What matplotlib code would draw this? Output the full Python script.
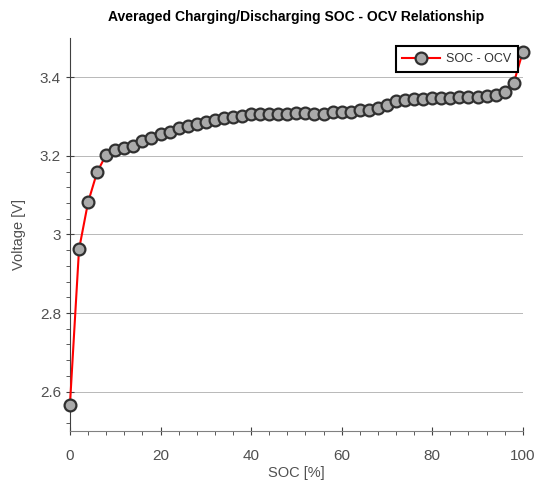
import numpy as np
import matplotlib
matplotlib.use('Agg')
import matplotlib.pyplot as plt
from matplotlib.ticker import FixedLocator

plt.rcParams['font.family'] = ['Liberation Sans', 'DejaVu Sans']

# SOC breakpoints [%] and averaged open-circuit voltage [V]
SOC = list(range(0, 101, 2))
OCV = [2.567, 2.962, 3.082, 3.159, 3.203, 3.216, 3.219, 3.225, 3.239, 3.247,
       3.256, 3.262, 3.270, 3.276, 3.282, 3.286, 3.292, 3.297, 3.300, 3.303,
       3.306, 3.306, 3.306, 3.306, 3.306, 3.310, 3.310, 3.308, 3.308, 3.313,
       3.313, 3.313, 3.317, 3.318, 3.322, 3.330, 3.339, 3.342, 3.344, 3.344,
       3.347, 3.347, 3.347, 3.350, 3.350, 3.351, 3.353, 3.356, 3.364, 3.386,
       3.465]
X_TICKS = [0, 20, 40, 60, 80, 100]
Y_TICKS = [2.6, 2.8, 3.0, 3.2, 3.4]
Y_TICK_LABELS = ['2.6', '2.8', '3', '3.2', '3.4']

fig = plt.figure(figsize=(5.34, 4.83), dpi=100)
ax = fig.add_axes([0.131, 0.108, 0.848, 0.813])

ax.plot(SOC, OCV, color='red', linewidth=1.5, marker='o', markersize=8.5,
        markerfacecolor='#aaaaaa', markeredgecolor='#303030', markeredgewidth=1.6,
        label='SOC - OCV', clip_on=False, zorder=3)

ax.set_xlim(0, 100)
ax.set_ylim(2.5, 3.5)
ax.set_xticks(X_TICKS)
ax.set_yticks(Y_TICKS)
ax.set_yticklabels(Y_TICK_LABELS)
ax.xaxis.set_minor_locator(FixedLocator([x for x in range(4, 100, 4) if x % 20 != 0]))
ax.yaxis.set_minor_locator(FixedLocator([v for v in np.arange(2.52, 3.17, 0.04)
                                         if min(abs(v - t) for t in Y_TICKS) > 1e-3]))

ax.grid(axis='y', which='major', color='#b8b8b8', linewidth=0.7)
ax.set_axisbelow(True)
for side in ['top', 'right']:
    ax.spines[side].set_visible(False)
ax.spines['left'].set_color('#404040')
ax.spines['bottom'].set_color('#808080')

ax.tick_params(axis='both', which='major', direction='inout', length=6,
               color='#404040', labelcolor='#505050', labelsize=11)
ax.tick_params(axis='both', which='minor', direction='out', length=3, color='#404040')
ax.tick_params(axis='x', which='major', pad=10)

ax.set_xlabel('SOC [%]', color='#505050', fontsize=10.5, labelpad=2)
ax.set_ylabel('Voltage [V]', color='#505050', fontsize=10.5, labelpad=10)
ax.set_title('Averaged Charging/Discharging SOC - OCV Relationship',
             fontsize=10, fontweight='bold', pad=12)

leg = ax.legend(loc='upper right', bbox_to_anchor=(0.99, 0.98), fancybox=False,
                framealpha=1, edgecolor='black', fontsize=9, handlelength=3.0,
                borderpad=0.55, borderaxespad=0, handletextpad=0.5)
leg.get_frame().set_linewidth(1.5)
for t in leg.get_texts():
    t.set_color('#303030')

fig.savefig('out.png', dpi=100)
